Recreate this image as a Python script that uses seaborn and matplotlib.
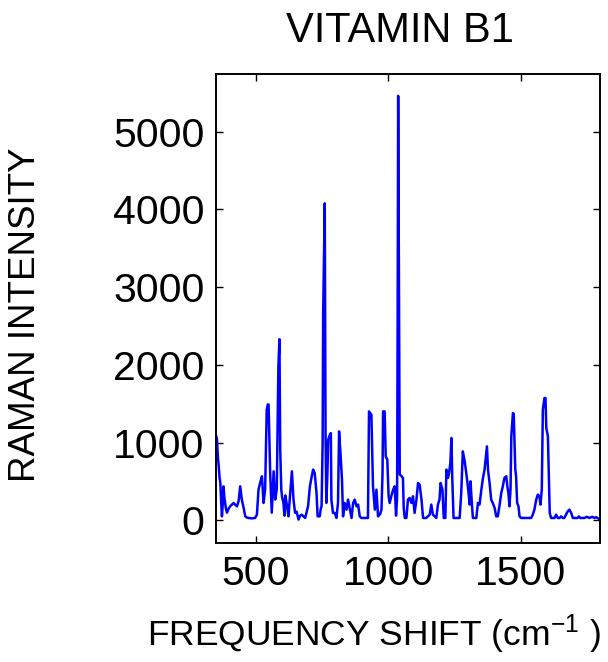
import pandas as pd
import matplotlib
matplotlib.use("Agg")
import matplotlib.pyplot as plt
import seaborn as sns

sns.set_theme(style="ticks")
plt.rcParams["font.family"] = ["Liberation Sans", "DejaVu Sans"]
plt.rcParams["mathtext.fontset"] = "custom"
plt.rcParams["mathtext.rm"] = "Liberation Sans"
plt.rcParams["text.color"] = "black"
plt.rcParams["axes.labelcolor"] = "black"

# Raman shift (cm-1) and intensity
shift = [350, 354, 358, 361, 364, 367, 370, 373, 376, 379, 382, 385, 388, 392,
         398, 404, 410, 417, 423, 430, 436, 442, 448, 455, 461, 467, 474, 486,
         498, 505, 511, 517, 524, 530, 536, 542, 546, 549, 555, 561, 568, 574,
         580, 586, 590, 593, 597, 600, 605, 609, 612, 618, 624, 630, 637, 643,
         649, 655, 662, 668, 674, 687, 698, 705, 711, 717, 723, 730, 734, 742,
         746, 749, 753, 755, 761, 764, 767, 771, 774, 780, 784, 786, 792, 799,
         805, 811, 815, 821, 826, 830, 836, 843, 849, 855, 862, 868, 874, 881,
         887, 893, 899, 912, 924, 928, 937, 943, 950, 956, 962, 970, 975, 979,
         981, 987, 991, 997, 1002, 1006, 1012, 1019, 1025, 1030, 1034, 1036,
         1038, 1041, 1044, 1050, 1056, 1059, 1063, 1069, 1075, 1081, 1088, 1094,
         1100, 1107, 1113, 1119, 1126, 1132, 1144, 1157, 1163, 1169, 1182, 1188,
         1194, 1198, 1205, 1210, 1216, 1220, 1226, 1230, 1235, 1239, 1242, 1247,
         1257, 1270, 1276, 1282, 1289, 1295, 1301, 1308, 1311, 1316, 1320, 1333,
         1339, 1345, 1352, 1358, 1364, 1373, 1377, 1383, 1389, 1395, 1402, 1408,
         1414, 1420, 1427, 1433, 1439, 1446, 1450, 1454, 1458, 1462, 1465, 1471,
         1474, 1480, 1483, 1487, 1492, 1496, 1502, 1520, 1540, 1546, 1552, 1559,
         1565, 1571, 1575, 1580, 1584, 1590, 1594, 1597, 1603, 1606, 1610, 1615,
         1628, 1634, 1640, 1647, 1653, 1659, 1665, 1678, 1684, 1691, 1697, 1715,
         1720, 1725, 1741, 1750, 1760, 1770, 1779, 1785, 1795]
intensity = [1100, 1050, 800, 694, 550, 484, 250, 51, 200, 437, 300, 223, 150, 98,
             150, 180, 200, 223, 200, 180, 250, 437, 266, 158, 51, 35, 30, 25,
             30, 72, 394, 480, 566, 223, 394, 1423, 1490, 1490, 609, 98, 630, 266,
             400, 1980, 2330, 900, 394, 300, 223, 60, 320, 200, 51, 320, 630, 266,
             98, 110, 9, 60, 72, 30, 180, 437, 550, 652, 609, 350, 51, 51,
             150, 180, 1000, 2665, 4078, 1080, 223, 600, 1037, 1101, 1122, 266, 95, 95,
             30, 223, 1144, 823, 523, 51, 223, 137, 266, 158, 30, 223, 266, 180,
             202, 51, 30, 30, 30, 1401, 1358, 437, 137, 394, 51, 80, 137, 600,
             1401, 1401, 823, 781, 309, 223, 309, 394, 437, 60, 300, 2500,
             5460, 3000, 590, 570, 545, 159, 30, 30, 266, 288, 223, 309,
             95, 266, 480, 459, 266, 30, 30, 73, 202, 73, 30, 202,
             266, 480, 395, 30, 30, 652, 545, 609, 737, 1059, 566, 30,
             30, 30, 352, 887, 758, 609, 437, 202, 501, 223, 30, 30,
             223, 202, 395, 545, 652, 951, 652, 480, 266, 223, 159, 51,
             51, 180, 352, 437, 545, 566, 437, 352, 180, 395, 1080, 1380,
             1370, 652, 566, 223, 180, 51, 30, 30, 30, 73, 137, 266,
             330, 309, 202, 395, 1423, 1573, 1573, 1187, 1080, 652, 95, 30,
             30, 73, 30, 30, 51, 30, 30, 116, 137, 95, 30, 30,
             50, 30, 30, 45, 30, 45, 30, 40, 20]

spec = pd.DataFrame({"shift": shift, "intensity": intensity})

fig = plt.figure(figsize=(6.08, 6.62), dpi=100)
ax = fig.add_axes([0.355, 0.180, 0.632, 0.708])

sns.lineplot(data=spec, x="shift", y="intensity", estimator=None, sort=False,
             color="#0000FF", linewidth=1.8, ax=ax)

ax.set_xlim(350, 1800)
ax.set_ylim(-290, 5740)
ax.set_xticks([500, 1000, 1500])
ax.set_yticks([0, 1000, 2000, 3000, 4000, 5000])

for side in ["top", "right", "bottom", "left"]:
    ax.spines[side].set_visible(True)
    ax.spines[side].set_linewidth(1.4)
    ax.spines[side].set_color("black")

ax.tick_params(axis="both", direction="in", length=5, width=1, labelsize=29.5,
               top=True, right=True, colors="black")
ax.tick_params(axis="y", pad=8)
ax.tick_params(axis="x", pad=9)

ax.set_title("VITAMIN B1", fontsize=30, x=0.478, y=1.069, pad=0)
ax.set_xlabel(r"FREQUENCY SHIFT (cm$\mathregular{^{-1}}$ )", fontsize=25.5)
ax.set_ylabel("RAMAN INTENSITY", fontsize=26.5)
ax.xaxis.set_label_coords(0.412, -0.196)
ax.xaxis.label.set_va("center")
ax.yaxis.set_label_coords(-0.496, 0.486)
ax.yaxis.label.set_va("center")

fig.savefig("out.png", dpi=100)
plt.close(fig)
